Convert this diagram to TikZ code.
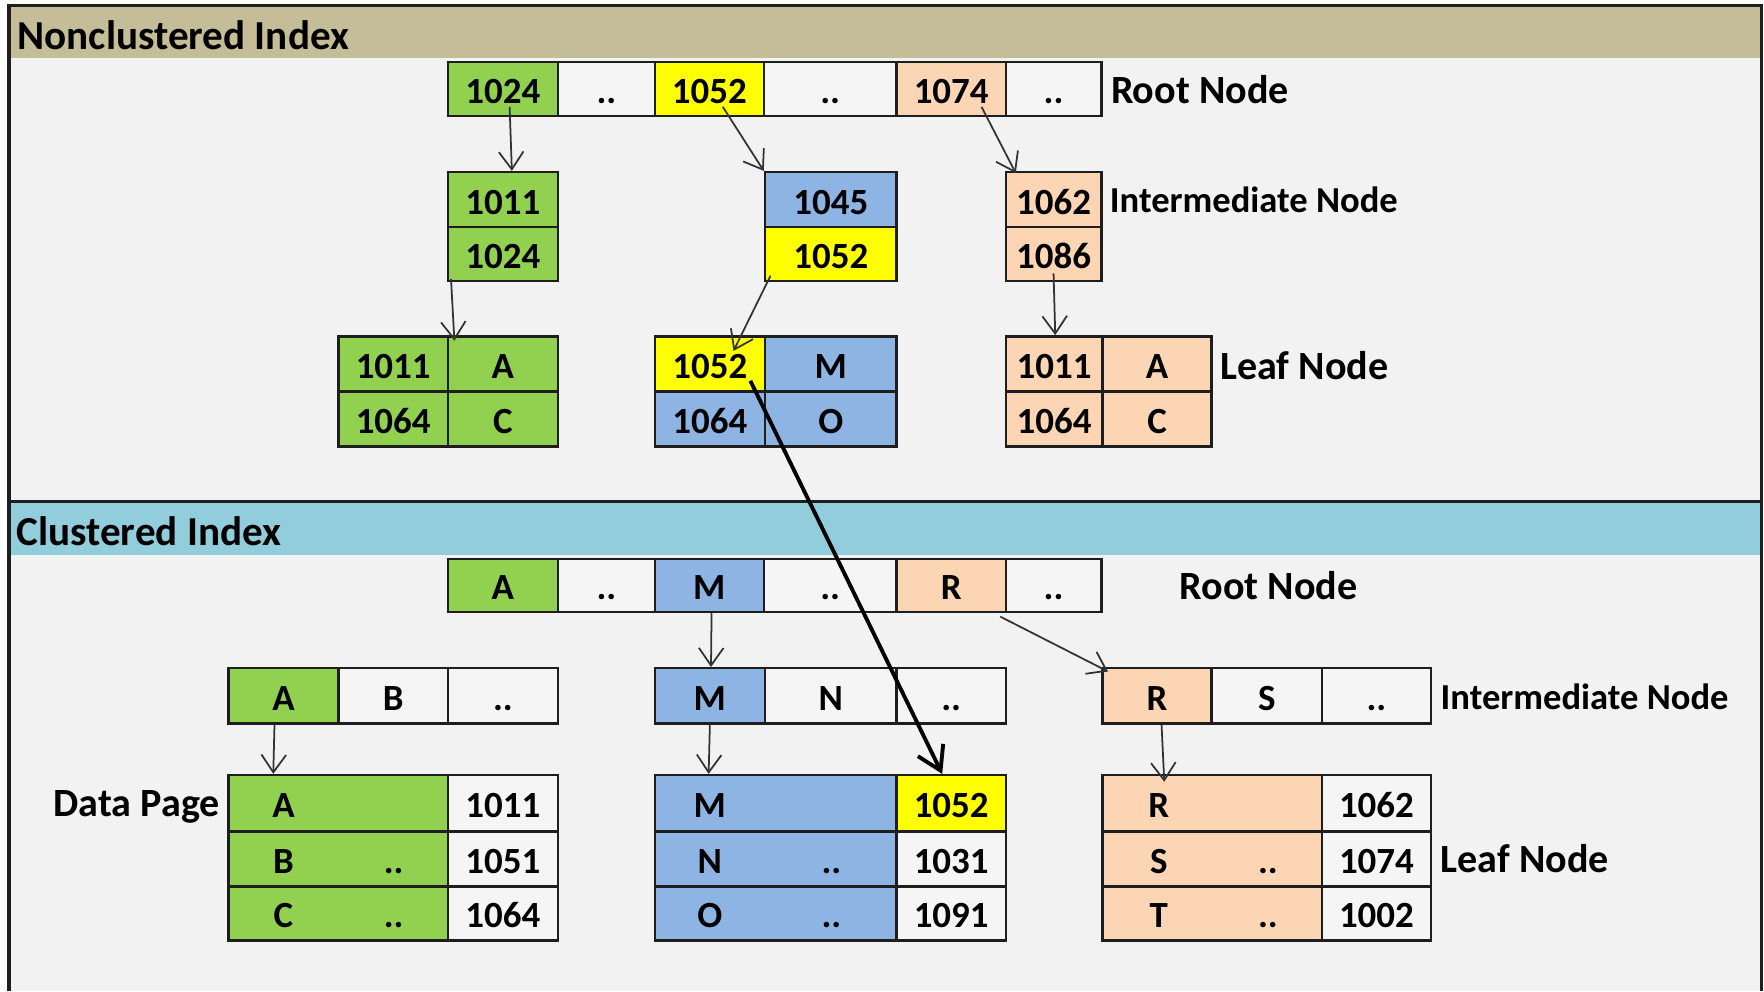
\documentclass[tikz,border=0pt]{standalone}
\usepackage{fontspec}
\setmainfont{Carlito}
\usetikzlibrary{fit,calc,arrows.meta}
\definecolor{cgreen}{HTML}{92D050}
\definecolor{cblue}{HTML}{8DB4E2}
\definecolor{cpeach}{HTML}{FCD5B4}
\definecolor{cyellow}{HTML}{FFFF00}
\definecolor{ctan}{HTML}{C4BD97}
\definecolor{caqua}{HTML}{92CDDC}
\definecolor{cbg}{HTML}{F2F2F2}
\definecolor{cwhite}{HTML}{F5F5F5}
\definecolor{cline}{HTML}{1E1E1E}
\tikzset{
  cell/.style={draw=cline, line width=0.7pt, inner sep=0pt},
  celltext/.style={inner sep=0pt, text height=7.1pt, text depth=0.2pt,
    font=\fontsize{10.5}{12}\selectfont\bfseries},
  lbl/.style={inner sep=0pt, font=\fontsize{11.4}{13}\selectfont\bfseries},
  midlbl/.style={inner sep=0pt, font=\fontsize{10.4}{12}\selectfont\bfseries},
  headlbl/.style={inner sep=0pt, font=\fontsize{11.7}{14}\selectfont\bfseries},
  frame/.style={draw=cline, line width=0.9pt},
  arr/.style={draw=black!80, line width=0.5pt, -{Straight Barb[length=5pt,width=7pt]}},
  bigarr/.style={draw=black, line width=1.1pt, -{Straight Barb[length=6.5pt,width=8pt]}}
}
% one table cell spanning the two given corners, with its entry centred
\newcommand\mkcell[5]{%
  \node[cell, fill=#2, fit={#3 #4}] (#1) {};
  \node[celltext] (#1t) at ($(#1.center)+(0,2)$) {#5};}
\begin{document}
\begin{tikzpicture}[x=0.01125cm, y=-0.01125cm]
\useasboundingbox (0,0) rectangle (1568,881);
\fill[white] (0,0) rectangle (1568,881);
% panel background and the two section bands
\fill[cbg] (8,5) rectangle (1566,881);
\fill[ctan] (8,5) rectangle (1566,52);
\fill[caqua] (8,446) rectangle (1566,493);
\draw[frame] (8,881) -- (8,5) -- (1566,5) -- (1566,881);
\draw[frame] (8,446) -- (1566,446);
\node[headlbl, anchor=base west] (hnc) at (15,44) {Nonclustered Index};
\node[headlbl, anchor=base west] (hcl) at (14,485) {Clustered Index};

% ---------- nonclustered index: root
\mkcell{nr1}{cgreen}{(398,55)}{(496,103)}{1024}
\mkcell{nr2}{cwhite}{(496,55)}{(582,103)}{..}
\mkcell{nr3}{cyellow}{(582,55)}{(679,103)}{1052}
\mkcell{nr4}{cwhite}{(679,55)}{(797,103)}{..}
\mkcell{nr5}{cpeach}{(797,55)}{(894,103)}{1074}
\mkcell{nr6}{cwhite}{(894,55)}{(979,103)}{..}
\node[lbl, anchor=base west] (lnr) at (987,92) {Root Node};

% intermediate
\mkcell{nia1}{cgreen}{(398,153)}{(496,202)}{1011}
\mkcell{nia2}{cgreen}{(398,202)}{(496,250)}{1024}
\mkcell{nib1}{cblue}{(680,153)}{(797,202)}{1045}
\mkcell{nib2}{cyellow}{(680,202)}{(797,250)}{1052}
\mkcell{nic1}{cpeach}{(894,153)}{(979,202)}{1062}
\mkcell{nic2}{cpeach}{(894,202)}{(979,250)}{1086}
\node[midlbl, anchor=base west] (lni) at (986,188.5) {Intermediate Node};

% leaf
\mkcell{nla1}{cgreen}{(301,299)}{(398,348)}{1011}
\mkcell{nla2}{cgreen}{(398,299)}{(496,348)}{A}
\mkcell{nla3}{cgreen}{(301,348)}{(398,397)}{1064}
\mkcell{nla4}{cgreen}{(398,348)}{(496,397)}{C}
\mkcell{nlb1}{cyellow}{(582,299)}{(680,348)}{1052}
\mkcell{nlb2}{cblue}{(680,299)}{(797,348)}{M}
\mkcell{nlb3}{cblue}{(582,348)}{(680,397)}{1064}
\mkcell{nlb4}{cblue}{(680,348)}{(797,397)}{O}
\mkcell{nlc1}{cpeach}{(894,299)}{(980,348)}{1011}
\mkcell{nlc2}{cpeach}{(980,299)}{(1077,348)}{A}
\mkcell{nlc3}{cpeach}{(894,348)}{(980,397)}{1064}
\mkcell{nlc4}{cpeach}{(980,348)}{(1077,397)}{C}
\node[lbl, anchor=base west] (lnl) at (1084,337.5) {Leaf Node};

% ---------- clustered index: root
\mkcell{cr1}{cgreen}{(398,497)}{(496,544)}{A}
\mkcell{cr2}{cwhite}{(496,497)}{(582,544)}{..}
\mkcell{cr3}{cblue}{(582,497)}{(679,544)}{M}
\mkcell{cr4}{cwhite}{(679,497)}{(797,544)}{..}
\mkcell{cr5}{cpeach}{(797,497)}{(894,544)}{R}
\mkcell{cr6}{cwhite}{(894,497)}{(979,544)}{..}
\node[lbl, anchor=base west] (lcr) at (1048,532.5) {Root Node};

% intermediate
\mkcell{ca1}{cgreen}{(203,594)}{(301,643)}{A}
\mkcell{ca2}{cwhite}{(301,594)}{(398,643)}{B}
\mkcell{ca3}{cwhite}{(398,594)}{(496,643)}{..}
\mkcell{cb1}{cblue}{(582,594)}{(680,643)}{M}
\mkcell{cb2}{cwhite}{(680,594)}{(797,643)}{N}
\mkcell{cb3}{cwhite}{(797,594)}{(894,643)}{..}
\mkcell{cc1}{cpeach}{(980,594)}{(1077,643)}{R}
\mkcell{cc2}{cwhite}{(1077,594)}{(1175,643)}{S}
\mkcell{cc3}{cwhite}{(1175,594)}{(1272,643)}{..}
\node[midlbl, anchor=base west] (lci) at (1280,630.5) {Intermediate Node};

% data pages
\mkcell{da1}{cgreen}{(203,689)}{(398,739)}{}
\mkcell{da2}{cgreen}{(203,739)}{(398,788)}{}
\mkcell{da3}{cgreen}{(203,788)}{(398,836)}{}
\mkcell{dv1}{cwhite}{(398,689)}{(496,739)}{1011}
\mkcell{dv2}{cwhite}{(398,739)}{(496,788)}{1051}
\mkcell{dv3}{cwhite}{(398,788)}{(496,836)}{1064}
\node[celltext] (ta1) at (252,716) {A};
\node[celltext] (ta2) at (252,765.5) {B};
\node[celltext] (ta2d) at (350,765.5) {..};
\node[celltext] (ta3) at (252,814) {C};
\node[celltext] (ta3d) at (350,814) {..};

\mkcell{db1}{cblue}{(582,689)}{(797,739)}{}
\mkcell{db2}{cblue}{(582,739)}{(797,788)}{}
\mkcell{db3}{cblue}{(582,788)}{(797,836)}{}
\mkcell{dw1}{cyellow}{(797,689)}{(894,739)}{1052}
\mkcell{dw2}{cwhite}{(797,739)}{(894,788)}{1031}
\mkcell{dw3}{cwhite}{(797,788)}{(894,836)}{1091}
\node[celltext] (tb1) at (631,716) {M};
\node[celltext] (tb2) at (631,765.5) {N};
\node[celltext] (tb2d) at (739,765.5) {..};
\node[celltext] (tb3) at (631,814) {O};
\node[celltext] (tb3d) at (739,814) {..};

\mkcell{dc1}{cpeach}{(980,689)}{(1175,739)}{}
\mkcell{dc2}{cpeach}{(980,739)}{(1175,788)}{}
\mkcell{dc3}{cpeach}{(980,788)}{(1175,836)}{}
\mkcell{dx1}{cwhite}{(1175,689)}{(1272,739)}{1062}
\mkcell{dx2}{cwhite}{(1175,739)}{(1272,788)}{1074}
\mkcell{dx3}{cwhite}{(1175,788)}{(1272,836)}{1002}
\node[celltext] (tc1) at (1030,716) {R};
\node[celltext] (tc2) at (1030,765.5) {S};
\node[celltext] (tc2d) at (1127,765.5) {..};
\node[celltext] (tc3) at (1030,814) {T};
\node[celltext] (tc3d) at (1127,814) {..};

\node[lbl, anchor=base east] (ldp) at (196,726) {Data Page};
\node[lbl, anchor=base west] (lcl) at (1280,775.5) {Leaf Node};

% ---------- pointers, nonclustered tree
\draw[arr] ($(nr1.center)+(6,16)$) -- ($(nia1.north)+(8,0)$);
\draw[arr] ($(nr3.center)+(12,16)$) -- (nib1.north west);
\draw[arr] ($(nr5.center)+(27,16)$) -- ($(nic1.north west)+(10,2)$);
\draw[arr] ($(nia2.south west)+(4,-3)$) -- ($(nla2.north west)+(7,5)$);
\draw[arr] ($(nib2.south west)+(6,-6)$) -- ($(nlb1.north)+(21,14)$);
\draw[arr] ($(nic2.south)+(0,-8)$) -- ($(nlc1.north)+(1,0)$);

% ---------- pointers, clustered tree
\draw[arr] ($(cr3.south)+(2,0)$) -- ($(cb1.north)+(1,0)$);
\draw[arr] ($(cr5.south east)+(-6,3)$) -- ($(cc1.north west)+(6,4)$);
\draw[arr] ($(ca1.south)+(-8,0)$) -- ($(da1.north west)+(41,0)$);
\draw[arr] (cb1.south) -- ($(db1.north west)+(49,0)$);
\draw[arr] ($(cc1.south)+(4,0)$) -- ($(dc1.north west)+(56,7)$);

% row locator into the clustered data page
\draw[bigarr] ($(nlb1.center)+(36,15)$) -- ($(dw1.north)+(-8,0)$);
\end{tikzpicture}
\end{document}
